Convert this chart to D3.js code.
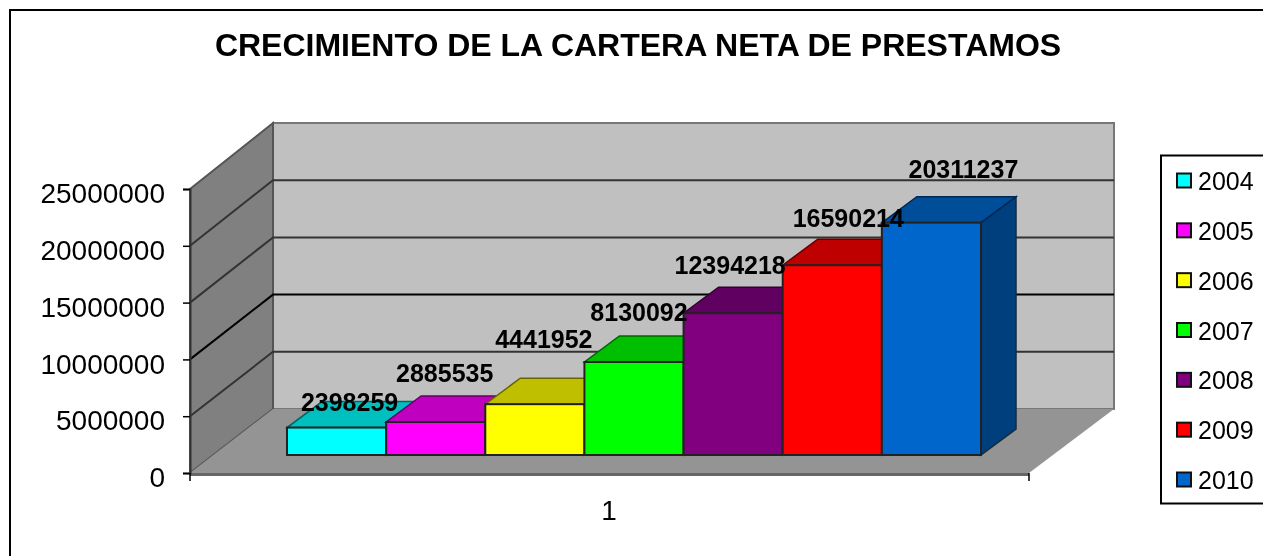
<!DOCTYPE html>
<html>
<head>
<meta charset="utf-8">
<script src="https://cdn.jsdelivr.net/npm/d3@7"></script>
<style>
  html, body { margin: 0; padding: 0; background: #fff; overflow: hidden; }
  /* the source is a slightly soft, upscaled image */
  svg { display: block; font-family: "Liberation Sans", Arial, sans-serif; filter: blur(0.45px); }
</style>
</head>
<body>
<svg id="chart" width="1263" height="556"></svg>
<script>
const title = 'CRECIMIENTO DE LA CARTERA NETA DE PRESTAMOS';
const years = ['2004', '2005', '2006', '2007', '2008', '2009', '2010'];
const values = [2398259, 2885535, 4441952, 8130092, 12394218, 16590214, 20311237];
const yTicks = [0, 5000000, 10000000, 15000000, 20000000, 25000000];
const categoryLabel = '1';

const palette = ['#00ffff', '#ff00ff', '#ffff00', '#00ff00', '#800080', '#ff0000', '#0066cc'];
// the original labels were dragged around by hand, so each one has its own nudge
const labelNudgeX = [13, 9, 9, 5, -3, 16, 32];
const labelNudgeY = [0, -23, -39, -24, -22, -21, -28];

const svg = d3.select('#chart');

// front plane of the box and the back wall share the same value axis
const yFront = d3.scaleLinear().domain([0, 25000000]).range([473, 189]);
const yBack = d3.scaleLinear().domain([0, 25000000]).range([409, 123]);
const x = d3.scaleBand().domain(years).range([287, 981]).paddingInner(0);

const shade = (c, k) => {
    const o = d3.rgb(c);
    return d3.rgb(o.r * k, o.g * k, o.b * k).formatHex();
};
const poly = pts => 'M' + pts.map(p => p.join(',')).join('L') + 'Z';

// outer frame, runs off the right and bottom of the window
svg.append('rect')
    .attr('x', 10).attr('y', 10).attr('width', 1300).attr('height', 600)
    .attr('fill', '#fff').attr('stroke', '#000').attr('stroke-width', 2);

svg.append('text')
    .attr('x', 638).attr('y', 56)
    .attr('text-anchor', 'middle')
    .attr('font-size', 32).attr('font-weight', 700)
    .attr('fill', '#000')
    .text(title);

// walls and floor
const box = svg.append('g');
box.append('path')
    .attr('d', poly([[273, yBack(25000000)], [1114, yBack(25000000)], [1114, yBack(0)], [273, yBack(0)]]))
    .attr('fill', '#c0c0c0').attr('stroke', '#777').attr('stroke-width', 2);
box.append('path')
    .attr('d', poly([[190, yFront(25000000)], [273, yBack(25000000)], [273, yBack(0)], [190, yFront(0)]]))
    .attr('fill', '#808080').attr('stroke', '#555').attr('stroke-width', 2);
box.append('path')
    .attr('d', poly([[190, yFront(0)], [1029, yFront(0)], [1114, yBack(0)], [273, yBack(0)]]))
    .attr('fill', '#949494');
box.append('line')
    .attr('x1', 190).attr('x2', 1029).attr('y1', yFront(0) + 1.5).attr('y2', yFront(0) + 1.5)
    .attr('stroke', '#666').attr('stroke-width', 3);

// gridlines on back and side wall
box.selectAll('.grid')
    .data(yTicks.slice(1, -1))
    .join('path')
    .attr('class', 'grid')
    .attr('d', d => `M190,${yFront(d)}L273,${yBack(d)}L1114,${yBack(d)}`)
    .attr('fill', 'none')
    .attr('stroke', d => d === 10000000 ? '#000' : '#333')
    .attr('stroke-width', 2);

// value axis on the front left edge
const axisY = svg.append('g')
    .attr('transform', 'translate(190,0)')
    .call(d3.axisLeft(yFront).tickValues(yTicks).tickFormat(d3.format('d')).tickSize(7).tickPadding(18));
axisY.select('.domain').attr('stroke', '#333').attr('stroke-width', 2);
axisY.selectAll('.tick line').attr('stroke', '#000').attr('stroke-width', 1.5);
axisY.selectAll('.tick text')
    .attr('font-family', 'inherit').attr('font-size', 28).attr('fill', '#000').attr('dy', '0.49em');

// category axis, one group only
const xFront = d3.scalePoint().domain([categoryLabel]).range([609, 609]);
svg.selectAll('.xtick')
    .data([190, 1029])
    .join('line')
    .attr('class', 'xtick')
    .attr('x1', d => d).attr('x2', d => d).attr('y1', yFront(0)).attr('y2', yFront(0) + 8)
    .attr('stroke', '#000').attr('stroke-width', 1.5);
svg.append('text')
    .attr('x', xFront(categoryLabel)).attr('y', 520)
    .attr('text-anchor', 'middle')
    .attr('font-size', 28).attr('fill', '#000')
    .text(categoryLabel);

// bars
const barBase = 455, depthX = 35, depthY = 26;
const bars = svg.append('g').selectAll('g')
    .data(years.map((year, i) => ({ year, value: values[i], color: palette[i], i })))
    .join('g');

const topY = d => barBase - (yBack(0) - yBack(d.value));

bars.append('path')
    .attr('d', d => {
        const l = x(d.year) + x.bandwidth();
        return poly([[l, barBase], [l, topY(d)], [l + depthX, topY(d) - depthY], [l + depthX, barBase - depthY]]);
    })
    .attr('fill', d => shade(d.color, 0.62))
    .attr('stroke', '#1b2a3a').attr('stroke-width', 1.5);

bars.append('path')
    .attr('d', d => {
        const l = x(d.year), r = l + x.bandwidth(), t = topY(d);
        return poly([[l, t], [r, t], [r + depthX, t - depthY], [l + depthX, t - depthY]]);
    })
    .attr('fill', d => shade(d.color, 0.75))
    .attr('stroke', d => shade(d.color, 0.4)).attr('stroke-width', 1.5);

bars.append('rect')
    .attr('x', d => x(d.year))
    .attr('y', d => topY(d))
    .attr('width', x.bandwidth())
    .attr('height', d => barBase - topY(d))
    .attr('fill', d => d.color)
    .attr('stroke', '#222').attr('stroke-width', 2);

// data labels above everything
svg.append('g').selectAll('text')
    .data(years.map((year, i) => ({ year, value: values[i], i })))
    .join('text')
    .attr('x', d => x(d.year) + x.bandwidth() / 2 + labelNudgeX[d.i])
    .attr('y', d => topY(d) - depthY + labelNudgeY[d.i] + 9)
    .attr('text-anchor', 'middle')
    .attr('font-size', 25).attr('font-weight', 700)
    .attr('fill', '#000')
    .text(d => d.value);

// legend, also cut off by the right edge
const legend = svg.append('g');
legend.append('rect')
    .attr('x', 1161).attr('y', 155.5).attr('width', 140).attr('height', 348)
    .attr('fill', '#fff').attr('stroke', '#000').attr('stroke-width', 2);

const legendY = d3.scalePoint().domain(years).range([181, 480]);
const items = legend.selectAll('.item')
    .data(years.map((year, i) => ({ year, color: palette[i] })))
    .join('g')
    .attr('class', 'item')
    .attr('transform', d => `translate(0,${legendY(d.year)})`);
items.append('rect')
    .attr('x', 1177).attr('y', -7.5).attr('width', 14).attr('height', 14)
    .attr('fill', d => d.color).attr('stroke', '#111').attr('stroke-width', 2);
items.append('text')
    .attr('x', 1198).attr('y', 9)
    .attr('font-size', 25).attr('fill', '#000')
    .text(d => d.year);
</script>
</body>
</html>
